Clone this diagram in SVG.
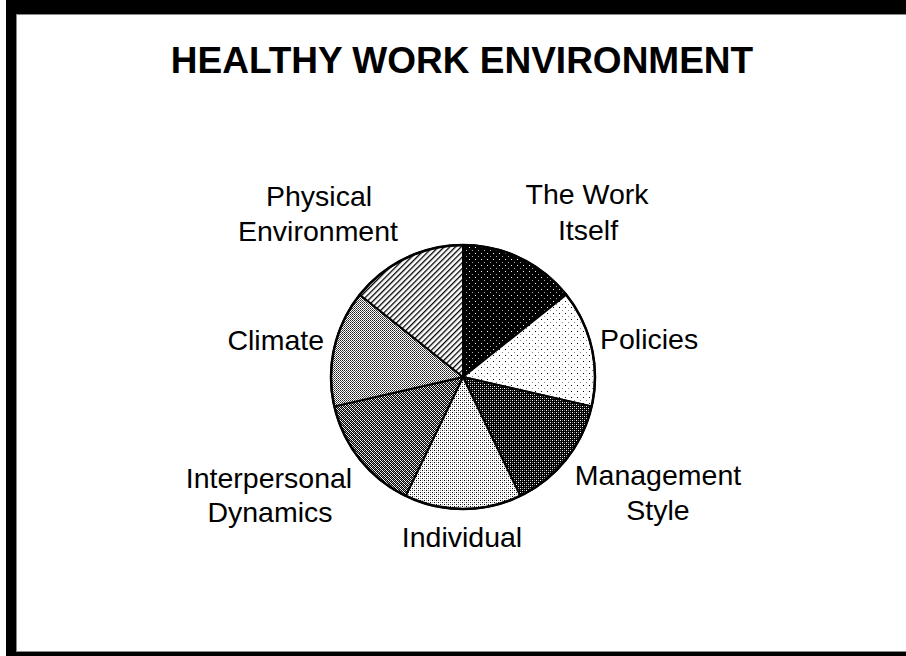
<svg xmlns="http://www.w3.org/2000/svg" width="906" height="656" viewBox="0 0 906 656">
  <style>
    .lbl { font-family: "Liberation Sans", Arial, sans-serif; font-size: 28.5px; fill: #000; }
    .title { font-family: "Liberation Sans", Arial, sans-serif; font-size: 37px; font-weight: bold; fill: #000; }
    .slice { stroke: #000; stroke-width: 2; stroke-linejoin: round; }
  </style>
  <defs>
    <!-- black with sparse white dots -->
    <pattern id="pWork" width="6" height="6" patternUnits="userSpaceOnUse">
      <rect width="6" height="6" fill="#000"/>
      <rect x="1" y="1" width="1" height="1" fill="#fff"/>
      <rect x="4" y="4" width="1" height="1" fill="#aaa"/>
    </pattern>
    <!-- white with sparse black dots -->
    <pattern id="pPolicies" width="6" height="6" patternUnits="userSpaceOnUse">
      <rect width="6" height="6" fill="#fff"/>
      <rect x="1" y="1" width="1" height="1" fill="#000"/>
      <rect x="4" y="4" width="1" height="1" fill="#888"/>
    </pattern>
    <!-- dark dotted -->
    <pattern id="pMgmt" width="4" height="4" patternUnits="userSpaceOnUse">
      <rect width="4" height="4" fill="#000"/>
      <rect x="0" y="0" width="1" height="1" fill="#fff"/>
      <rect x="2" y="2" width="1" height="1" fill="#fff"/>
      <rect x="0" y="2" width="1" height="1" fill="#777"/>
      <rect x="2" y="0" width="1" height="1" fill="#777"/>
    </pattern>
    <!-- light dotted -->
    <pattern id="pIndiv" width="4" height="4" patternUnits="userSpaceOnUse">
      <rect width="4" height="4" fill="#fff"/>
      <rect x="0" y="0" width="1" height="1" fill="#000"/>
      <rect x="2" y="2" width="1" height="1" fill="#000"/>
      <rect x="0" y="2" width="1" height="1" fill="#999"/>
      <rect x="2" y="0" width="1" height="1" fill="#999"/>
    </pattern>
    <!-- medium-dark checker -->
    <pattern id="pInterp" width="4" height="4" patternUnits="userSpaceOnUse">
      <rect width="4" height="4" fill="#000"/>
      <rect x="0" y="0" width="1" height="1" fill="#fff"/>
      <rect x="2" y="0" width="1" height="1" fill="#bbb"/>
      <rect x="1" y="1" width="1" height="1" fill="#fff"/>
      <rect x="3" y="1" width="1" height="1" fill="#777"/>
      <rect x="0" y="2" width="1" height="1" fill="#bbb"/>
      <rect x="2" y="2" width="1" height="1" fill="#fff"/>
      <rect x="1" y="3" width="1" height="1" fill="#777"/>
      <rect x="3" y="3" width="1" height="1" fill="#fff"/>
    </pattern>
    <!-- medium checker -->
    <pattern id="pClimate" width="2" height="2" patternUnits="userSpaceOnUse">
      <rect width="2" height="2" fill="#fff"/>
      <rect x="0" y="0" width="1" height="1" fill="#222"/>
      <rect x="1" y="1" width="1" height="1" fill="#555"/>
    </pattern>
    <!-- diagonal hatch -->
    <pattern id="pPhys" width="4" height="4" patternUnits="userSpaceOnUse" patternTransform="rotate(45)">
      <rect width="4" height="4" fill="#fff"/>
      <rect x="0" y="0" width="1.3" height="4" fill="#000"/>
    </pattern>
  </defs>

  <!-- frame -->
  <rect x="6" y="0" width="900" height="656" fill="#000"/>
  <rect x="16" y="14" width="890" height="638" fill="#888"/>
  <rect x="17" y="15" width="889" height="636" fill="#fff"/>

  <text class="title" x="462" y="73" text-anchor="middle">HEALTHY WORK ENVIRONMENT</text>

  <!-- pie slices -->
  <g id="slice-work-itself">
    <path class="slice" fill="url(#pWork)" d="M463,377 L463,245 A132,132 0 0 1 566.2,294.7 Z"/>
  </g>
  <g id="slice-policies">
    <path class="slice" fill="url(#pPolicies)" d="M463,377 L566.2,294.7 A132,132 0 0 1 591.7,406.4 Z"/>
  </g>
  <g id="slice-management-style">
    <path class="slice" fill="url(#pMgmt)" d="M463,377 L591.7,406.4 A132,132 0 0 1 520.3,495.9 Z"/>
  </g>
  <g id="slice-individual">
    <path class="slice" fill="url(#pIndiv)" d="M463,377 L520.3,495.9 A132,132 0 0 1 405.7,495.9 Z"/>
  </g>
  <g id="slice-interpersonal">
    <path class="slice" fill="url(#pInterp)" d="M463,377 L405.7,495.9 A132,132 0 0 1 334.3,406.4 Z"/>
  </g>
  <g id="slice-climate">
    <path class="slice" fill="url(#pClimate)" d="M463,377 L334.3,406.4 A132,132 0 0 1 359.8,294.7 Z"/>
  </g>
  <g id="slice-physical">
    <path class="slice" fill="url(#pPhys)" d="M463,377 L359.8,294.7 A132,132 0 0 1 463,245 Z"/>
  </g>
  <circle cx="463" cy="377" r="132" fill="none" stroke="#000" stroke-width="2.5"/>

  <!-- labels -->
  <g id="label-physical">
    <text class="lbl" x="319" y="206" text-anchor="middle">Physical</text>
    <text class="lbl" x="318" y="241" text-anchor="middle">Environment</text>
  </g>
  <g id="label-work-itself">
    <text class="lbl" x="587" y="204" text-anchor="middle">The Work</text>
    <text class="lbl" x="588" y="240" text-anchor="middle">Itself</text>
  </g>
  <g id="label-policies">
    <text class="lbl" x="600" y="349">Policies</text>
  </g>
  <g id="label-climate">
    <text class="lbl" x="324" y="350" text-anchor="end">Climate</text>
  </g>
  <g id="label-management">
    <text class="lbl" x="658" y="485" text-anchor="middle">Management</text>
    <text class="lbl" x="658" y="520" text-anchor="middle">Style</text>
  </g>
  <g id="label-interpersonal">
    <text class="lbl" x="269" y="488" text-anchor="middle">Interpersonal</text>
    <text class="lbl" x="270" y="522" text-anchor="middle">Dynamics</text>
  </g>
  <g id="label-individual">
    <text class="lbl" x="462" y="547" text-anchor="middle">Individual</text>
  </g>
</svg>
